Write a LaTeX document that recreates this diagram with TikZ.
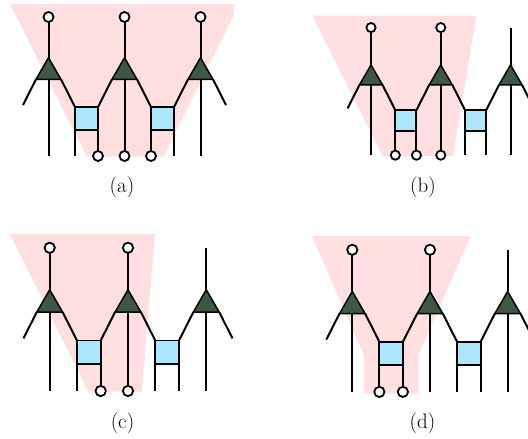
\documentclass[tikz,border=0pt]{standalone}
\usetikzlibrary{shapes.geometric}
\definecolor{shadepink}{RGB}{255,223,223}
\definecolor{tensorgreen}{RGB}{62,88,66}
\definecolor{gatecyan}{RGB}{173,230,255}
\newcommand{\chainpanel}[4]{%
	\begin{scope}[shift={(#1,#2)},scale=#3,every node/.append style={transform shape}]
		\foreach \i in {1,2,3} {
			\coordinate (u\i) at ({76*(\i-1)},40);
			\coordinate (d\i) at ({76*(\i-1)},-99);
			\node[tensor] (t\i) at ({76*(\i-1)},-15.2) {};
			\draw[wire] (u\i) -- (t\i.corner 1);
			\draw[wire] (t\i.south) -- (d\i);
		}
		\foreach \i/\j in {1/2,2/3} {
			\node[gate] (g\i) at ({76*(\i-1)+38},-61.5) {};
			\coordinate (l\i) at ({76*(\i-1)+26.5},-99);
			\coordinate (r\i) at ({76*(\i-1)+49.5},-99);
			\draw[wire] (t\i.corner 3) -- (g\i.north west);
			\draw[wire] (t\j.corner 2) -- (g\i.north east);
			\draw[wire] (g\i.south west) -- (l\i);
			\draw[wire] (g\i.south east) -- (r\i);
		}
		\coordinate (el) at (-25.5,-48);
		\coordinate (er) at (177.5,-48);
		\draw[wire] (t1.corner 2) -- (el);
		\draw[wire] (t3.corner 3) -- (er);
		\foreach \e in {#4} \node[endcap] at (\e) {};
	\end{scope}
}
\begin{document}
\begin{tikzpicture}[x=1pt,y=1pt,
		wire/.style = {line width=2pt, black},
		tensor/.style = {regular polygon, regular polygon sides=3, draw=black,
			line width=1.5pt, fill=tensorgreen, minimum size=29pt, inner sep=0pt, outer sep=0pt},
		gate/.style = {rectangle, draw=black, line width=1.9pt, fill=gatecyan,
			minimum size=23pt, inner sep=0pt, outer sep=0pt},
		endcap/.style = {circle, draw=black, line width=1.8pt, fill=white,
			minimum size=10pt, inner sep=0pt},
		caption/.style = {font=\fontsize{21}{23}\selectfont, inner sep=0pt},
		region/.style = {fill=shadepink, draw=none}]
	\path[use as bounding box, clip] (0,-439) rectangle (528,0);
	% shaded regions
	\path[region] (10,-4) -- (234,-4) -- (234,-15) -- (163.3,-156.7) -- (86.7,-156.7) -- cycle;
	\path[region] (312.3,-15.7) -- (476.3,-15.7) -- (453,-156) -- (382.3,-156) -- cycle;
	\path[region] (10,-234) -- (155,-234) -- (141.7,-391.7) -- (88.3,-391.7) -- cycle;
	\path[region] (311.7,-236) -- (470.7,-236) -- (418.3,-355) -- (418.3,-393.7) -- (364,-393.7) -- (364,-355) -- cycle;
	% the four chains
	\chainpanel{48.5}{-57}{1}{u1,u2,u3,r1,d2,l2}
	\chainpanel{371}{-64.3}{.918}{u1,u2,l1,r1,d2}
	\chainpanel{49.7}{-289}{1.03}{u1,u2,r1,d2}
	\chainpanel{352.3}{-290.7}{1.022}{u1,u2,l1,r1}
	\node[caption] (capa) at (122,-187) {(a)};
	\node[caption] (capb) at (423,-187) {(b)};
	\node[caption] (capc) at (122.5,-423) {(c)};
	\node[caption] (capd) at (422.5,-423) {(d)};
\end{tikzpicture}
\end{document}
